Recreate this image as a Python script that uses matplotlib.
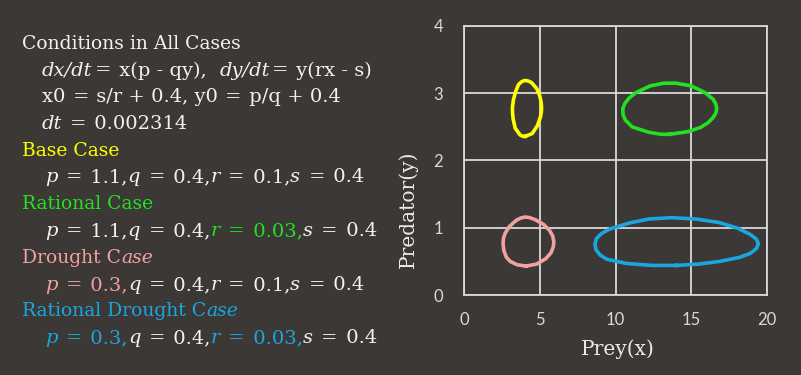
import matplotlib
matplotlib.use('Agg')
import matplotlib.pyplot as plt
import numpy as np

plt.rcParams['font.family'] = ['Lato', 'DejaVu Sans']

W, H = 801, 375
BG = '#3b3836'
WHITE = '#f2f2f2'
GRID = '#d9d9d9'
YEL = '#ffff00'
GRN = '#22e022'
PINK = '#f2a0a0'
BLUE = '#1aa7df'

# loops (prey x, predator y)
base_x = [4.05, 4.50, 4.85, 5.05, 5.11, 5.12, 5.08, 5.00, 4.80, 4.45, 4.20, 4.02, 3.82, 3.60, 3.40, 3.26, 3.20, 3.20, 3.24, 3.38, 3.70, 3.88]
base_y = [2.36, 2.40, 2.52, 2.65, 2.73, 2.80, 2.88, 2.96, 3.07, 3.16, 3.185, 3.19, 3.175, 3.13, 3.02, 2.90, 2.80, 2.72, 2.62, 2.48, 2.38, 2.36]

rational_x = [13.6, 14.8, 15.6, 16.1, 16.45, 16.63, 16.68, 16.62, 16.45, 15.9, 15.0, 14.0, 13.2, 12.3, 11.35, 10.9, 10.62, 10.48, 10.50, 10.65, 11.1, 12.2, 13.0]
rational_y = [2.39, 2.43, 2.49, 2.56, 2.64, 2.71, 2.77, 2.84, 2.91, 3.01, 3.11, 3.15, 3.15, 3.11, 3.01, 2.93, 2.85, 2.77, 2.68, 2.60, 2.50, 2.42, 2.39]

drought_x = [4.1, 4.8, 5.4, 5.75, 5.90, 5.93, 5.85, 5.65, 5.25, 4.7, 4.35, 4.05, 3.75, 3.45, 3.0, 2.72, 2.60, 2.58, 2.63, 2.80, 3.05, 3.5]
drought_y = [0.43, 0.46, 0.54, 0.63, 0.72, 0.80, 0.88, 0.96, 1.05, 1.12, 1.15, 1.16, 1.145, 1.11, 1.02, 0.92, 0.84, 0.76, 0.66, 0.56, 0.50, 0.45]

rdrought_x = [14.0, 15.5, 16.9, 18.2, 18.9, 19.3, 19.43, 19.3, 18.9, 18.1, 16.8, 15.3, 13.7, 12.2, 10.9, 9.6, 9.05, 8.75, 8.64, 8.72, 9.0, 9.45, 10.7, 12.4]
rdrought_y = [0.44, 0.46, 0.50, 0.56, 0.62, 0.69, 0.76, 0.83, 0.90, 0.99, 1.08, 1.13, 1.15, 1.13, 1.07, 0.98, 0.91, 0.84, 0.76, 0.67, 0.59, 0.53, 0.47, 0.44]

x_ticks = [0, 5, 10, 15, 20]
y_ticks = [0, 1, 2, 3, 4]

fig = plt.figure(figsize=(W / 100, H / 100), dpi=100, facecolor=BG)
ax = fig.add_axes([464 / W, 1 - 295 / H, 303 / W, 269 / H])
ax.set_facecolor(BG)
ax.set_xlim(0, 20)
ax.set_ylim(0, 4)
ax.set_xticks(x_ticks)
ax.set_yticks(y_ticks)
ax.grid(True, color=GRID, lw=1.3)
ax.set_axisbelow(True)
for sp in ax.spines.values():
    sp.set_color(GRID)
    sp.set_linewidth(1.3)
ax.tick_params(axis='x', length=0, colors=GRID, labelsize=12, pad=12)
ax.tick_params(axis='y', length=0, colors=GRID, labelsize=12, pad=15)

for xs, ys, col in [(base_x, base_y, YEL), (rational_x, rational_y, GRN),
                    (drought_x, drought_y, PINK), (rdrought_x, rdrought_y, BLUE)]:
    ax.plot(xs + xs[:1], ys + ys[:1], color=col, lw=2.6, solid_joinstyle='round')

SERIF = 'DejaVu Serif'
fig.text(618 / W, 1 - 349 / H, 'Prey(x)', ha='center', va='center',
         family=SERIF, size=14.5, color='#ebebeb')
fig.text(408 / W, 1 - 209 / H, 'Predator(y)', ha='center', va='center', rotation=90,
         family=SERIF, size=14.5, color='#ebebeb')

# left-hand text block, drawn piece by piece so colours and italics can change
renderer = fig.canvas.get_renderer()


def width_of(s, italic, fs):
    t = fig.text(0, 0, s + '|', family=SERIF, size=fs,
                 style='italic' if italic else 'normal')
    b = fig.text(0, 0, '|', family=SERIF, size=fs)
    w = t.get_window_extent(renderer).width - b.get_window_extent(renderer).width
    t.remove()
    b.remove()
    return w


def draw_line(x0, base, fs, pad, segs):
    x = x0
    for s, col, it in segs:
        # extra room round '=' like the math font in the original
        parts = s.split('=')
        for i, part in enumerate(parts):
            if i > 0:
                x += pad
                fig.text(x / W, 1 - base / H, '=', color=col, family=SERIF, size=fs,
                         va='baseline', ha='left')
                x += width_of('=', False, fs) + pad
            if part:
                fig.text(x / W, 1 - base / H, part, color=col, family=SERIF, size=fs,
                         style='italic' if it else 'normal', va='baseline', ha='left')
                x += width_of(part, it, fs)


lines = [
    (22, 49, 13.5, 0, [('Conditions in All Cases', WHITE, False)]),
    (42, 75.5, 14, 2, [('dx/dt', WHITE, True), ('= x(p - qy),  ', WHITE, False),
                       ('dy/dt', WHITE, True), ('= y(rx - s)', WHITE, False)]),
    (42, 102.5, 14, 1, [('x0 = s/r + 0.4, y0 = p/q + 0.4', WHITE, False)]),
    (42, 129, 14, 1.5, [('dt', WHITE, True), (' = 0.002314', WHITE, False)]),
    (22, 155.5, 13.5, 0, [('Base Case', YEL, False)]),
    (45, 182, 14, 2, [('p', WHITE, True), (' = 1.1,', WHITE, False), ('q', WHITE, True),
                      (' = 0.4,', WHITE, False), ('r', WHITE, True), (' = 0.1,', WHITE, False),
                      ('s', WHITE, True), (' = 0.4', WHITE, False)]),
    (22, 209, 13.5, 0, [('Rational Case', GRN, False)]),
    (45, 236, 14, 2, [('p', WHITE, True), (' = 1.1,', WHITE, False), ('q', WHITE, True),
                      (' = 0.4,', WHITE, False), ('r', GRN, True), (' = 0.03,', GRN, False),
                      ('s', WHITE, True), (' = 0.4', WHITE, False)]),
    (22, 263, 13.5, 0, [('Drought C', PINK, False), ('ase', PINK, True)]),
    (45, 290, 14, 2, [('p', PINK, True), (' = 0.3,', PINK, False), ('q', WHITE, True),
                      (' = 0.4,', WHITE, False), ('r', WHITE, True), (' = 0.1,', WHITE, False),
                      ('s', WHITE, True), (' = 0.4', WHITE, False)]),
    (22, 316.5, 13.5, 0, [('Rational Drought C', BLUE, False), ('ase', BLUE, True)]),
    (45, 343, 14, 2, [('p', BLUE, True), (' = 0.3,', BLUE, False), ('q', WHITE, True),
                      (' = 0.4,', WHITE, False), ('r', BLUE, True), (' = 0.03,', BLUE, False),
                      ('s', WHITE, True), (' = 0.4', WHITE, False)]),
]

for x0, base, fs, pad, segs in lines:
    draw_line(x0, base, fs, pad, segs)

fig.savefig('out.png', dpi=100, facecolor=BG)
